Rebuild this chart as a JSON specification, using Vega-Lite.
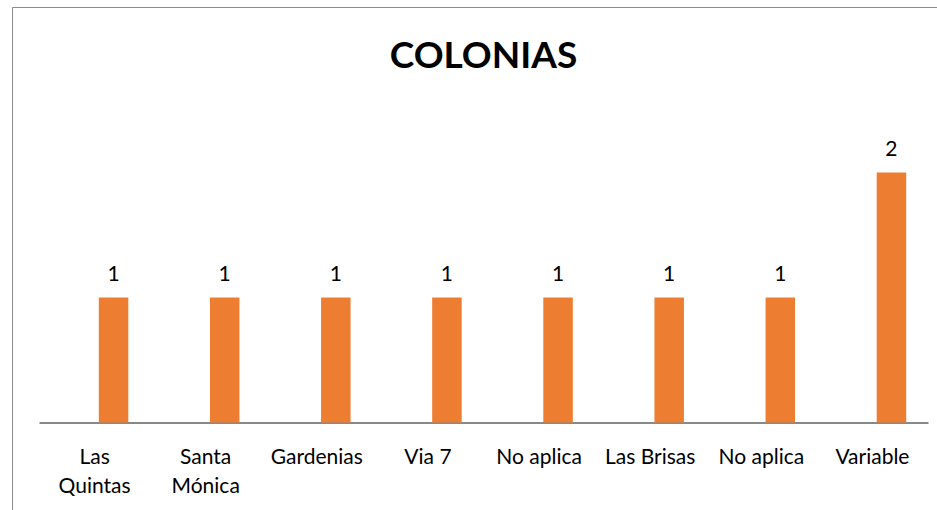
{
  "$schema": "https://vega.github.io/schema/vega-lite/v6.json",
  "autosize": {"type": "none"},
  "padding": {"left": 12, "top": 7, "right": 0, "bottom": 0},
  "width": 926,
  "height": 504,
  "background": "white",
  "config": {"view": {"stroke": "#8c8c8c", "strokeWidth": 1}},
  "title": {
    "text": "COLONIAS",
    "font": "Lato",
    "fontSize": 37,
    "fontWeight": "bold",
    "color": "#000000",
    "anchor": "middle",
    "frame": "group",
    "offset": -98,
    "baseline": "alphabetic",
    "dx": 8.5
  },
  "data": {
    "values": [
      {"colonia": "Las Quintas", "n": 1},
      {"colonia": "Santa Mónica", "n": 1},
      {"colonia": "Gardenias", "n": 1},
      {"colonia": "Via 7", "n": 1},
      {"colonia": "No aplica", "n": 1},
      {"colonia": "Las Brisas", "n": 1},
      {"colonia": "No aplica ", "n": 1},
      {"colonia": "Variable", "n": 2}
    ]
  },
  "encoding": {
    "x": {
      "field": "colonia",
      "type": "nominal",
      "sort": null,
      "scale": {"range": [27, 916], "paddingInner": 0, "paddingOuter": 0},
      "axis": {
        "title": null,
        "orient": "bottom",
        "offset": -88.5,
        "domainColor": "#898989",
        "domainWidth": 2,
        "ticks": false,
        "grid": false,
        "labelAngle": 0,
        "labelFont": "Lato",
        "labelFontSize": 21,
        "labelColor": "#000000",
        "labelPadding": 23.5,
        "labelBaseline": "top",
        "labelLineHeight": 29,
        "labelOverlap": false,
        "labelExpr": "datum.value == 'Las Quintas' ? ['Las', 'Quintas'] : datum.value == 'Santa Mónica' ? ['Santa', 'Mónica'] : trim(datum.value)"
      }
    },
    "y": {
      "field": "n",
      "type": "quantitative",
      "scale": {"domain": [0, 2.5], "range": [415.5, 103], "nice": false, "zero": true},
      "axis": null
    }
  },
  "layer": [
    {"mark": {"type": "bar", "width": 29.5, "xOffset": 19, "color": "#ED7D31"}},
    {
      "mark": {"type": "text", "xOffset": 19, "dy": -17, "baseline": "alphabetic", "font": "Lato", "fontSize": 21, "color": "#000000"},
      "encoding": {"text": {"field": "n", "type": "quantitative"}}
    }
  ]
}
